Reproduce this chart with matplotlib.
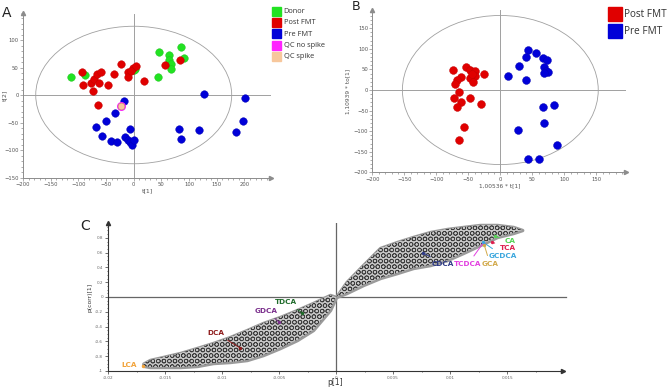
import matplotlib
matplotlib.use("Agg")
import matplotlib.pyplot as plt
from matplotlib.patches import Ellipse, Rectangle
from matplotlib.ticker import MultipleLocator, FixedLocator

W, H = 669, 387

# ---------------- Panel A data (PCA scores) ----------------
donor_t1 = [-114, -88, 45, 85, 64, 64, 90, 67, 68, 43, 3, 1]
donor_t2 = [32, 36, 79, 88, 73, 64, 68, 56, 48, 33, 48, 45]
postA_t1 = [-94, -92, -77, -74, -71, -66, -60, -62, -47, -36, -23, -11, -11, -2, 4, 19, 56, 83, -65, -5]
postA_t2 = [42, 19, 22, 7, 30, 39, 42, 21, 19, 39, 56, 42, 32, 50, 53, 25, 55, 64, -18, 44]
preA_t1 = [127, 201, -18, -33, -50, -68, -58, -41, -30, -15, -6, -11, -6, -4, 0, 82, 85, 118, 197, 185]
preA_t2 = [2, -5, -11, -32, -47, -59, -75, -83, -86, -76, -62, -82, -86, -90, -82, -61, -80, -64, -47, -68]
qc_nospike_t1 = [-23]
qc_nospike_t2 = [-20]
qc_spike_t1 = [-23]
qc_spike_t2 = [-20]
groupsA = ["Donor", "Post FMT", "Pre FMT", "QC no spike", "QC spike"]
colorsA = ["#22E222", "#E00000", "#0000D8", "#FF22FF", "#F7C79C"]
ellipseA = (177, 125)

# ---------------- Panel B data (OPLS-DA scores) ----------------
postB_t = [-74, -53, -48, -40, -39, -25, -61, -67, -71, -47, -43, -65, -72, -61, -48, -30, -68, -57, -65, -44]
postB_to = [49, 57, 49, 45, 34, 39, 31, 24, 14, 30, 19, -5, -19, -28, -19, -34, -42, -89, -122, 39]
preB_t = [43, 56, 40, 67, 73, 29, 69, 72, 74, 69, 12, 40, 66, 84, 69, 27, 89, 43, 61]
preB_to = [98, 91, 81, 77, 72, 59, 57, 46, 43, 41, 33, 24, -42, -37, -80, -98, -133, -167, -167]
groupsB = ["Post FMT", "Pre FMT"]
colorsB = ["#E00000", "#0000D8"]
ellipseB = (153, 181)

# ---------------- Panel C data (S-plot) ----------------
band_p = [-0.0169, -0.01632, -0.01518, -0.01368, -0.01219, -0.01079, -0.00930, -0.00781,
          -0.00640, -0.00491, -0.00342, -0.00202, -0.00053, 0.0, 0.00092, 0.00237,
          0.00386, 0.00535, 0.00675, 0.00825, 0.00974, 0.01114, 0.01263, 0.01412,
          0.01553, 0.01632]
band_upper = [-0.90, -0.851, -0.811, -0.757, -0.689, -0.622, -0.541, -0.446,
              -0.351, -0.270, -0.176, -0.081, 0.027, 0.0, 0.203, 0.432,
              0.662, 0.743, 0.811, 0.878, 0.919, 0.946, 0.973, 0.973,
              0.946, 0.905]
band_lower = [-0.93, -0.946, -0.946, -0.946, -0.932, -0.892, -0.878, -0.851,
              -0.784, -0.689, -0.581, -0.446, -0.176, 0.0, 0.054, 0.162,
              0.257, 0.324, 0.392, 0.432, 0.500, 0.595, 0.703, 0.811,
              0.865, 0.905]
acids = ["TDCA", "GDCA", "DCA", "LCA", "CDCA", "TCDCA", "GCA", "GCDCA", "TCA", "CA"]
acid_p = [-0.0030, -0.0050, -0.0084, -0.0169, 0.0076, 0.0129, 0.0130, 0.0129, 0.0137, 0.0139]
acid_pcorr = [-0.21, -0.34, -0.69, -0.93, 0.60, 0.73, 0.70, 0.74, 0.74, 0.82]
acid_colors = ["#1F6B2A", "#7A2E8C", "#8E1B1B", "#F2A33A", "#2E3A87",
               "#E23FE0", "#D2A94A", "#3AA6DD", "#DD1F4E", "#55D455"]
label_px = [(286, 302), (266, 311), (216, 333), (129, 365), (443, 264),
            (468, 264), (490, 264), (503, 256), (508, 248), (510, 241)]


def ax_at(left, top, right, bottom):
    return fig.add_axes([left / W, 1 - bottom / H, (right - left) / W, (bottom - top) / H])


def style_score_axes(ax, col="#8c8c8c"):
    for s in ["top", "right"]:
        ax.spines[s].set_visible(False)
    for s in ["left", "bottom"]:
        ax.spines[s].set_color(col)
        ax.spines[s].set_linewidth(0.7)
    ax.tick_params(which="both", colors=col, labelcolor="#555555", labelsize=3.8,
                   length=2, width=0.5, pad=1)
    ax.tick_params(which="minor", length=1.2)
    ax.plot(1, 0, ">", color=col, ms=3, transform=ax.transAxes, clip_on=False)
    ax.plot(0, 1, "^", color=col, ms=3, transform=ax.transAxes, clip_on=False)


fig = plt.figure(figsize=(W / 100, H / 100), dpi=100)
plt.rcParams["hatch.linewidth"] = 0.5

# ================= Panel A =================
axA = ax_at(23, 12.5, 271, 177.5)
axA.set_xlim(-200, 248)
axA.set_ylim(-150, 150)
style_score_axes(axA)
axA.set_xticks([-200, -150, -100, -50, 0, 50, 100, 150, 200])
axA.set_yticks([-150, -100, -50, 0, 50, 100])
axA.xaxis.set_minor_locator(MultipleLocator(10))
axA.yaxis.set_minor_locator(MultipleLocator(10))
axA.axhline(0, color="#a0a0a0", lw=0.7, xmax=1.0)
axA.axvline(0, color="#a0a0a0", lw=0.7, ymax=0.99)
axA.add_patch(Ellipse((0, 0), 2 * ellipseA[0], 2 * ellipseA[1], fill=False, ec="#a0a0a0", lw=0.6))
msz = 30
axA.scatter(donor_t1, donor_t2, s=msz, color=colorsA[0], edgecolors="#1cc01c", linewidths=0.3, zorder=3)
axA.scatter(postA_t1, postA_t2, s=msz, color=colorsA[1], edgecolors="#c00000", linewidths=0.3, zorder=4)
axA.scatter(preA_t1, preA_t2, s=msz, color=colorsA[2], edgecolors="#0000b0", linewidths=0.3, zorder=4)
axA.scatter(qc_nospike_t1, qc_nospike_t2, s=msz, color=colorsA[3], zorder=5)
axA.scatter(qc_spike_t1, qc_spike_t2, s=msz * 0.8, color=colorsA[4], edgecolors="#c08070", linewidths=0.4, zorder=6)
axA.set_xlabel("t[1]", fontsize=4.5, color="#555555")
axA.set_ylabel("t[2]", fontsize=4.5, color="#555555")
axA.xaxis.set_label_coords(0.5, -0.065)
axA.yaxis.set_label_coords(-0.065, 0.5)
for i, (g, c) in enumerate(zip(groupsA, colorsA)):
    top = 7 + i * 11.2
    fig.patches.append(Rectangle((272 / W, 1 - (top + 9) / H), 9 / W, 9 / H, color=c,
                                 transform=fig.transFigure))
    fig.text(283.5 / W, 1 - (top + 4.7) / H, g, fontsize=5.3, va="center", ha="left",
             color="#333333", family="Open Sans")
fig.text(2 / W, 1 - 13 / H, "A", fontsize=10, va="center", ha="left", color="#222222")

# ================= Panel B =================
axB = ax_at(372.3, 9.7, 626.4, 172.4)
axB.set_xlim(-200, 197)
axB.set_ylim(-200, 195)
style_score_axes(axB)
axB.set_xticks([-200, -150, -100, -50, 0, 50, 100, 150])
axB.set_yticks([-200, -150, -100, -50, 0, 50, 100, 150])
axB.xaxis.set_minor_locator(MultipleLocator(10))
axB.yaxis.set_minor_locator(MultipleLocator(10))
axB.axhline(0, color="#a0a0a0", lw=0.7)
axB.axvline(0, color="#a0a0a0", lw=0.7)
axB.add_patch(Ellipse((0, 0), 2 * ellipseB[0], 2 * ellipseB[1], fill=False, ec="#a0a0a0", lw=0.6))
axB.scatter(postB_t, postB_to, s=32, color=colorsB[0], edgecolors="#c00000", linewidths=0.3, zorder=4)
axB.scatter(preB_t, preB_to, s=32, color=colorsB[1], edgecolors="#0000b0", linewidths=0.3, zorder=4)
axB.set_xlabel("1,00536 * t[1]", fontsize=4.2, color="#555555")
axB.set_ylabel("1,10939 * to[1]", fontsize=4.2, color="#555555")
axB.xaxis.set_label_coords(0.5, -0.065)
axB.yaxis.set_label_coords(-0.085, 0.5)
for i, (g, c) in enumerate(zip(groupsB, colorsB)):
    top = 7 + i * 16.5
    fig.patches.append(Rectangle((608 / W, 1 - (top + 14) / H), 14 / W, 14 / H, color=c,
                                 transform=fig.transFigure))
    fig.text(624.5 / W, 1 - (top + 7.5) / H, g, fontsize=7.2, va="center", ha="left",
             color="#333333", family="Open Sans")
fig.text(352 / W, 1 - 7 / H, "B", fontsize=9, va="center", ha="left", color="#222222")

# ================= Panel C =================
axC = ax_at(108, 223, 563, 371)
axC.set_xlim(-0.02, 0.0199)
axC.set_ylim(-1, 1.0)
for s in ["top", "right"]:
    axC.spines[s].set_visible(False)
for s in ["left", "bottom"]:
    axC.spines[s].set_color("#333333")
    axC.spines[s].set_linewidth(0.8)
axC.plot(1, 0, ">", color="#333333", ms=3, transform=axC.transAxes, clip_on=False)
axC.plot(0, 1, "^", color="#333333", ms=3, transform=axC.transAxes, clip_on=False)
xt = [-0.02, -0.015, -0.01, -0.005, 0, 0.005, 0.01, 0.015]
axC.xaxis.set_major_locator(FixedLocator(xt))
axC.set_xticklabels(["-0.02", "-0.015", "-0.01", "-0.005", "0", "0.005", "0.01", "0.015"])
yt = [-1, -0.8, -0.6, -0.4, -0.2, 0, 0.2, 0.4, 0.6, 0.8]
axC.yaxis.set_major_locator(FixedLocator(yt))
axC.set_yticklabels(["-1", "-0.8", "-0.6", "-0.4", "-0.2", "0", "0.2", "0.4", "0.6", "0.8"])
axC.xaxis.set_minor_locator(MultipleLocator(0.0025))
axC.yaxis.set_minor_locator(MultipleLocator(0.05))
axC.tick_params(which="both", colors="#333333", labelcolor="#666666", labelsize=3,
                length=2, width=0.5, pad=1.5)
axC.tick_params(which="minor", length=1)
axC.axhline(0, color="#666666", lw=0.9, clip_on=False, xmax=1.007)
axC.axvline(0, color="#666666", lw=0.9)
# widened under-layer so the cloud of circles spills a little past its envelope
axC.fill_between(band_p, band_lower, band_upper, facecolor="#b8b8b8", edgecolor="#9a9a9a",
                 linewidth=2.5, zorder=2.5)
axC.fill_between(band_p, band_lower, band_upper, facecolor="#c8c8c8", edgecolor="#3c3c3c",
                 hatch="OOO", linewidth=0, zorder=3)
for name, px_, py_, c, (lx, ly) in zip(acids, acid_p, acid_pcorr, acid_colors, label_px):
    tx = (lx - 108) / 11400 - 0.02
    ty = (297 - ly) / 74
    axC.annotate(name, xy=(px_, py_), xytext=(tx, ty), color=c, fontsize=5.2,
                 fontweight="bold", ha="center", va="center", zorder=6,
                 arrowprops=dict(arrowstyle="-", color=c, lw=0.7, shrinkA=2, shrinkB=0))
    axC.scatter([px_], [py_], s=6, color=c, zorder=7, linewidths=0)
axC.set_xlabel("p[1]", fontsize=5.5, color="#333333")
axC.xaxis.set_label_coords(0.5, -0.05)
axC.set_ylabel("p(corr)[1]", fontsize=4.3, color="#333333")
axC.yaxis.set_label_coords(-0.033, 0.5)
fig.text(80 / W, 1 - 226 / H, "C", fontsize=10, va="center", ha="left", color="#222222")

fig.savefig("out.png", dpi=100)
